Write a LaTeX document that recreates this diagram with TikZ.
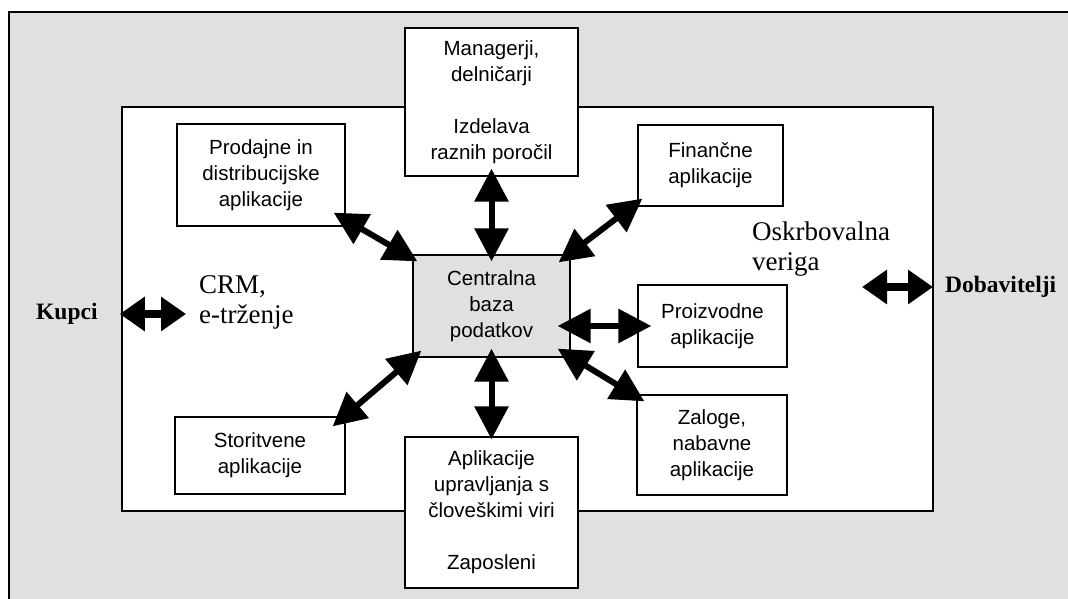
\documentclass[tikz,border=0pt]{standalone}
\usepackage{fontspec}
\setmainfont{Liberation Serif}
\setsansfont{Liberation Sans}
\usetikzlibrary{arrows.meta,calc}
\begin{document}
\begin{tikzpicture}[x=1pt,y=-1pt,
  texture/.style={fill=black!12},
  box/.style={draw, line width=1.3pt, fill=white, align=center, inner sep=0pt,
    font=\sffamily\fontsize{20.5}{26}\selectfont},
  link/.style={line width=6pt, >={Triangle[length=33pt 0 0,width=33pt 0 0]}, <->},
  ext/.style={line width=8pt, >={Triangle[length=25pt 0 0,width=33pt 0 0]}, <->},
  serif/.style={inner sep=0pt, align=left, font=\rmfamily\fontsize{27}{30}\selectfont},
  party/.style={inner sep=0pt, font=\rmfamily\bfseries\fontsize{23.5}{26}\selectfont}]
\useasboundingbox (0,0) rectangle (1068,599);

% textured surrounding band with its left and top edges
\fill[texture] (9,12) rectangle (1068,599);
\draw[line width=1.5pt] (9,599) -- (9,12) -- (1068,12);

% the enterprise frame
\draw[line width=1.6pt, fill=white] (122,107) rectangle (933,511);

% application boxes
\node[box, minimum width=168, minimum height=102] (pr) at (261,175) {Prodajne in\\distribucijske\\aplikacije};
\node[box, minimum width=173, minimum height=148] (mg) at (491.5,102) {Managerji,\\delničarji\\[26pt]Izdelava\\raznih poročil};
\node[box, minimum width=145, minimum height=81] (fi) at (710.5,165.5) {Finančne\\aplikacije};
\node[box, texture, minimum width=157, minimum height=102] (cb) at (491.5,306) {Centralna\\baza\\podatkov};
\node[box, minimum width=149, minimum height=82] (pz) at (712.5,326) {Proizvodne\\aplikacije};
\node[box, minimum width=150, minimum height=100] (za) at (712,445) {Zaloge,\\nabavne\\aplikacije};
\node[box, minimum width=173, minimum height=151] (ap) at (491.5,512.5) {Aplikacije\\upravljanja s\\človeškimi viri\\[26pt]Zaposleni};
\node[box, minimum width=170, minimum height=77] (st) at (260,455.5) {Storitvene\\aplikacije};

% free labels
\node[serif, anchor=west] (crm) at (199,302) {CRM,\\e-trženje};
\node[serif, anchor=west] (osk) at (752,249) {Oskrbovalna\\veriga};
\node[party, anchor=west] (kup) at (36,314) {Kupci};
\node[party, anchor=west] (dob) at (945,287) {Dobavitelji};

% links to the central database
\draw[link] ([shift={(-12,-14)}]pr.south east) -- ([shift={(5,7)}]cb.north west);
\draw[link] ([shift={(0,-8)}]mg.south) -- ([shift={(0,7)}]cb.north);
\draw[link] ([shift={(5,-8)}]fi.south west) -- ([shift={(-12,8)}]cb.north east);
\draw[link] ($(cb.east |- pz.west)+(-13,0)$) -- ([shift={(14,0)}]pz.west);
\draw[link] ([shift={(-13,-9)}]cb.south east) -- ([shift={(8,7)}]za.north west);
\draw[link] ([shift={(0,-9)}]cb.south) -- ([shift={(0,3)}]ap.north);
\draw[link] ([shift={(9,-7)}]cb.south west) -- ([shift={(-13,10)}]st.north east);

% customers and suppliers
\draw[ext] ([shift={(22,0)}]kup.east) -- ($(crm.west |- kup.east)+(-13,0)$);
\coordinate (dl) at (862,287);
\draw[ext] (dl) -- ([shift={(-12,0)}]dob.west);
\end{tikzpicture}
\end{document}
